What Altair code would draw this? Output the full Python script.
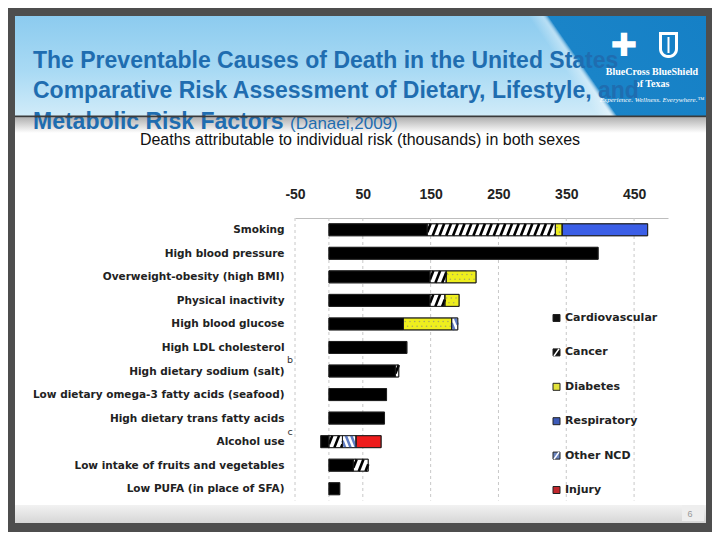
import json
import altair as alt
import pandas as pd

# ---------------- data ----------------
factors = [
    "Smoking",
    "High blood pressure",
    "Overweight-obesity (high BMI)",
    "Physical inactivity",
    "High blood glucose",
    "High LDL cholesterol",
    "High dietary sodium (salt)",
    "Low dietary omega-3 fatty acids (seafood)",
    "High dietary trans fatty acids",
    "Alcohol use",
    "Low intake of fruits and vegetables",
    "Low PUFA (in place of SFA)",
]
causes = ["Cardiovascular", "Cancer", "Diabetes", "Respiratory", "Other NCD", "Injury"]
cardiovascular = [145, 397, 149, 149, 110, 115, 98, 85, 82, -12, 36, 16]
cancer = [189, 0, 24, 22, 0, 0, 5, 0, 0, 20, 22, 0]
diabetes = [10, 0, 44, 21, 71, 0, 0, 0, 0, 0, 0, 0]
respiratory = [126, 0, 0, 0, 0, 0, 0, 0, 0, 0, 0, 0]
other_ncd = [0, 0, 0, 0, 9, 0, 0, 0, 0, 20, 0, 0]
injury = [0, 0, 0, 0, 0, 0, 0, 0, 0, 37, 0, 0]
x_ticks = [-50, 50, 150, 250, 350, 450]
grid_values = [-50, 0, 50, 150, 250, 350, 450]
footnotes = ["b", "c"]
footnote_rows = [5.53, 8.6]

series = {
    "Cardiovascular": cardiovascular,
    "Cancer": cancer,
    "Diabetes": diabetes,
    "Respiratory": respiratory,
    "Other NCD": other_ncd,
    "Injury": injury,
}
bar_fill = ["#000000", "#ffffff", "#eeee1e", "#3b5ee6", "#ffffff", "#ee1c1c"]
legend_fill = ["#111111", "#111111", "#e2e23a", "#3c5ab8", "#6c86c0", "#c1272d"]

# ---------------- geometry ----------------
W, H = 373, 282.5
STEP = H / 12
PX0, PY0 = 295, 218  # page position of the plot origin
HALF = 6 / STEP  # half bar height in row units

rows = []
for i, f in enumerate(factors):
    pos, neg = 0.0, 0.0
    for c in causes:
        v = series[c][i]
        if v == 0:
            continue
        if v > 0:
            s, e = pos, pos + v
            pos = e
        else:
            s, e = neg + v, neg
            neg = s
        rows.append(dict(factor=f, row=i, cause=c, start=s, end=e, top=i - HALF, bot=i + HALF))
bars = pd.DataFrame(rows)


def hatch(s, e, i, period, dx, up, color):
    out = []
    b = s - dx + period * 0.5
    while b < e:
        t0 = max(0.0, (s - b) / dx)
        t1 = min(1.0, (e - b) / dx)
        if t1 > t0:
            xa, xb = b + dx * t0, b + dx * t1
            if up:
                ya, yb = i + HALF - 2 * HALF * t0, i + HALF - 2 * HALF * t1
            else:
                ya, yb = i - HALF + 2 * HALF * t0, i - HALF + 2 * HALF * t1
            out.append(dict(xa=xa, xb=xb, ya=ya, yb=yb, col=color))
        b += period
    return out


hrows, drows = [], []
for r in rows:
    if r["cause"] == "Cancer":
        hrows += hatch(r["start"], r["end"], r["row"], 10, 7, True, "#000000")
    elif r["cause"] == "Other NCD":
        hrows += hatch(r["start"], r["end"], r["row"], 8, 7, False, "#5f7cc4")
    elif r["cause"] == "Diabetes":
        k = 0
        xx = r["start"] + 2.5
        while xx < r["end"] - 1.5:
            off = -0.1 if k % 2 == 0 else 0.1
            drows.append(dict(dx=xx, dy=r["row"] + off))
            xx += 3.5
            k += 1
hatches = pd.DataFrame(hrows)
dots = pd.DataFrame(drows)

xs = alt.Scale(domain=[-50, 500], nice=False, zero=False)
ys = alt.Scale(domain=[-0.5, 11.5], nice=False, zero=False, reverse=True)
label_expr = json.dumps(factors) + "[datum.value]"
XA = alt.Axis(orient="top", values=x_ticks, grid=False, ticks=False, title=None,
              labelExpr="'' + datum.value",
              domainColor="#bdbdbd", labelFont="Liberation Sans", labelFontWeight="bold",
              labelFontSize=14, labelColor="#222222", labelPadding=17, labelFlush=False,
              labelOverlap=False)
YA = alt.Axis(values=list(range(len(factors))), labelExpr=label_expr, grid=False, ticks=False,
              domain=False, title=None, labelFont="DejaVu Sans", labelFontWeight="bold",
              labelFontSize=10.5, labelColor="#222222", labelPadding=11, labelFlush=False,
              labelOverlap=False, labelLimit=400)

one = pd.DataFrame({"k": [0]})


def P(px):
    return alt.value(px - PX0)


def Q(py):
    return alt.value(py - PY0)


def box(x0, y0, x1, y1, **mk):
    return alt.Chart(one).mark_rect(**mk).encode(x=P(x0), x2=P(x1), y=Q(y0), y2=Q(y1))


def label(text, px, py, **mk):
    return alt.Chart(one).mark_text(text=text, **mk).encode(x=P(px), y=Q(py))


frame = "#4e4e4e"
layers = []
# slide frame
layers += [
    box(0, 0, 740, 16, fill=frame),
    box(0, 0, 15, 560, fill=frame),
    box(706, 0, 740, 560, fill=frame),
    box(0, 523, 740, 560, fill=frame),
]
# header
layers.append(box(15, 16, 706, 117, fill=alt.LinearGradient(
    gradient="linear", x1=0, y1=0, x2=0, y2=1,
    stops=[alt.GradientStop(color="#8ccbef", offset=0),
           alt.GradientStop(color="#a9daf4", offset=0.55),
           alt.GradientStop(color="#d2ecf9", offset=1)])))
layers.append(box(15, 16, 706, 117, fill=alt.LinearGradient(
    gradient="linear", x1=0, y1=0.101, x2=1, y2=0,
    stops=[alt.GradientStop(color="rgba(23,130,198,0)", offset=0),
           alt.GradientStop(color="rgba(255,255,255,0)", offset=0.745),
           alt.GradientStop(color="rgba(255,255,255,0.35)", offset=0.765),
           alt.GradientStop(color="#1a84c8", offset=0.774),
           alt.GradientStop(color="#1580c6", offset=1)])))
# header shadow (under title text)
layers.append(box(15, 118, 706, 133, fill=alt.LinearGradient(
    gradient="linear", x1=0, y1=0, x2=0, y2=1,
    stops=[alt.GradientStop(color="#b4b4b4", offset=0),
           alt.GradientStop(color="#ffffff", offset=1)])))
# logo
layers.append(label("\u271a", 624, 46, font="DejaVu Sans", fontSize=32, color="white",
                    align="center", baseline="middle"))
layers.append(box(659, 32, 678, 58, fill="white", cornerRadiusBottomLeft=9,
                  cornerRadiusBottomRight=9))
layers.append(box(662, 35, 675, 55, fill="#1580c6", cornerRadiusBottomLeft=6,
                  cornerRadiusBottomRight=6))
layers.append(box(667.5, 37, 669.5, 53, fill="white"))
layers.append(label("BlueCross BlueShield", 652, 72, font="Liberation Serif", fontWeight="bold",
                    fontSize=10, color="white", align="center", baseline="middle"))
layers.append(label("of Texas", 652, 84, font="Liberation Serif", fontWeight="bold",
                    fontSize=10, color="white", align="center", baseline="middle"))
layers.append(label("Experience. Wellness. Everywhere.\u2122", 652, 100, font="Liberation Serif",
                    fontStyle="italic", fontSize=7, color="white", align="center",
                    baseline="middle"))
# title text
tfont = dict(font="Liberation Sans", fontWeight="bold", fontSize=23, color="#1f6db0",
             align="left", baseline="middle")
layers.append(label("The Preventable Causes of Death in the United States", 33, 61, **tfont))
layers.append(label("Comparative Risk Assessment of Dietary, Lifestyle, and", 33, 91, **tfont))
layers.append(label("Metabolic Risk Factors", 33, 122, **tfont))
layers.append(label("(Danaei,2009)", 290, 124, font="Liberation Sans", fontSize=17,
                    color="#1f6db0", align="left", baseline="middle"))
# header bottom line (crosses the top of the last title line)
layers.append(box(15, 115.5, 706, 117.5, fill="#3a3a3a"))
# subtitle
layers.append(label("Deaths attributable to individual risk (thousands) in both sexes", 360, 140,
                    font="Liberation Sans", fontSize=16, color="#111111", align="center",
                    baseline="middle"))
# footer
layers.append(box(15, 505, 706, 523, fill=alt.LinearGradient(
    gradient="linear", x1=0, y1=0, x2=0, y2=1,
    stops=[alt.GradientStop(color="#f2f2f2", offset=0),
           alt.GradientStop(color="#d6d6d6", offset=1)])))
layers.append(box(682, 505, 704, 521, fill="#eeeeee"))
layers.append(label("6", 690, 514, font="Liberation Sans", fontSize=9, color="#999999",
                    align="center", baseline="middle"))

# gridlines
layers.append(
    alt.Chart(pd.DataFrame({"g": grid_values}))
    .mark_rule(color="#c8c8c8", strokeDash=[3, 3], strokeWidth=1)
    .encode(x=alt.X("g:Q", scale=xs, axis=XA), y=alt.value(0), y2=alt.value(H))
)
# bars
layers.append(
    alt.Chart(bars)
    .mark_rect(stroke="#1a1a1a", strokeWidth=0.8)
    .encode(
        x=alt.X("start:Q", scale=xs, axis=XA),
        x2="end:Q",
        y=alt.Y("top:Q", scale=ys, axis=YA),
        y2="bot:Q",
        fill=alt.Fill("cause:N", scale=alt.Scale(domain=causes, range=bar_fill), legend=None),
    )
)
# diabetes dots
layers.append(
    alt.Chart(dots)
    .mark_circle(size=2.5, color="#a8a860", opacity=1)
    .encode(x=alt.X("dx:Q", scale=xs, axis=XA), y=alt.Y("dy:Q", scale=ys, axis=YA))
)
# hatching
layers.append(
    alt.Chart(hatches)
    .mark_rule(strokeWidth=2.6)
    .encode(
        x=alt.X("xa:Q", scale=xs, axis=XA),
        x2="xb:Q",
        y=alt.Y("ya:Q", scale=ys, axis=YA),
        y2="yb:Q",
        stroke=alt.Stroke("col:N", scale=None),
    )
)
# outlines on top of hatching
layers.append(
    alt.Chart(bars)
    .mark_rect(fillOpacity=0, stroke="#1a1a1a", strokeWidth=0.8)
    .encode(
        x=alt.X("start:Q", scale=xs, axis=XA),
        x2="end:Q",
        y=alt.Y("top:Q", scale=ys, axis=YA),
        y2="bot:Q",
    )
)
# footnote markers
layers.append(
    alt.Chart(pd.DataFrame({"t": footnotes, "r": footnote_rows}))
    .mark_text(font="DejaVu Sans", fontSize=9.5, color="#333333", align="center",
               baseline="middle")
    .encode(text="t:N", x=alt.value(-5), y=alt.Y("r:Q", scale=ys, axis=YA))
)

# ---------------- legend (drawn on the y scale) ----------------
leg_top_px, leg_gap_px, sym_half_px = 318, 34.4, 3.5
leg = pd.DataFrame({
    "cause": causes,
    "col": legend_fill,
    "yc": [(leg_top_px + k * leg_gap_px - PY0) / STEP - 0.5 for k in range(len(causes))],
})
leg["y0"] = leg["yc"] - sym_half_px / STEP
leg["y1"] = leg["yc"] + sym_half_px / STEP
layers.append(
    alt.Chart(leg)
    .mark_rect(stroke="#222222", strokeWidth=1)
    .encode(x=P(553), x2=P(560), y=alt.Y("y0:Q", scale=ys, axis=YA), y2="y1:Q",
            fill=alt.Fill("col:N", scale=None))
)
leg_diag = leg[leg["cause"].isin(["Cancer", "Other NCD"])]
layers.append(
    alt.Chart(leg_diag)
    .mark_rule(color="white", strokeWidth=1.6)
    .encode(x=P(554), x2=P(559), y=alt.Y("y1:Q", scale=ys, axis=YA), y2="y0:Q")
)
layers.append(
    alt.Chart(leg)
    .mark_text(font="DejaVu Sans", fontWeight="bold", fontSize=11, color="#222222",
               align="left", baseline="middle")
    .encode(text="cause:N", x=P(565), y=alt.Y("yc:Q", scale=ys, axis=YA))
)

chart = (
    alt.layer(*layers)
    .properties(
        width=W,
        height=H,
        padding={"left": 287, "top": 210, "right": 44, "bottom": 31.5},
        autosize=alt.AutoSizeParams(type="none"),
    )
    .configure(background="white")
    .configure_view(stroke=None)
)

chart.save("out.html", embed_options={"renderer": "svg", "actions": False})
